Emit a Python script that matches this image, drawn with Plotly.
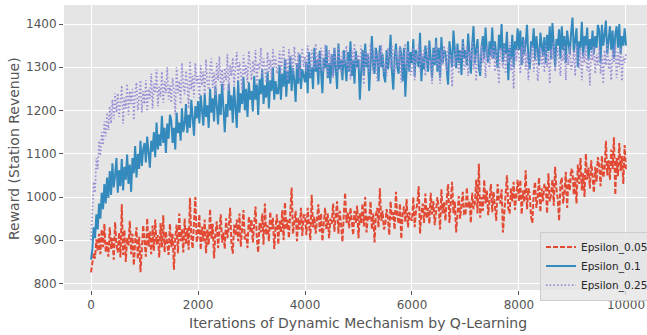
import plotly.graph_objects as go

# Iterations (sampled every 25 iterations)
iterations = list(range(0, 10001, 25))

# Epsilon 0.05 (red, dashed)
eps_005 = [
    826, 845, 870, 858, 902, 875, 915, 868, 925, 884, 938, 872, 896, 862, 930, 880, 905, 855, 942, 890,
    872, 918, 860, 983, 866, 924, 850, 906, 888, 945, 868, 915, 842, 898, 930, 856, 908, 826, 882, 935,
    898, 862, 951, 885, 920, 868, 934, 876, 948, 890, 912, 860, 940, 884, 958, 872, 920, 895, 866, 938,
    884, 915, 832, 905, 936, 870, 962, 898, 925, 872, 950, 890, 928, 878, 998, 905, 881, 942, 1000, 895,
    912, 960, 878, 931, 898, 948, 870, 925, 889, 972, 904, 938, 858, 915, 944, 882, 926, 960, 895, 918,
    880, 951, 905, 930, 975, 892, 869, 936, 910, 948, 898, 962, 885, 925, 970, 902, 915, 882, 955, 920,
    948, 895, 932, 978, 905, 872, 940, 918, 962, 890, 985, 912, 935, 898, 966, 925, 952, 880, 930, 960,
    890, 945, 918, 970, 900, 988, 925, 948, 905, 962, 1022, 915, 940, 968, 898, 952, 925, 975, 910, 958,
    958, 912, 975, 932, 900, 1005, 930, 955, 915, 948, 983, 920, 962, 898, 945, 975, 925, 962, 905, 950,
    938, 985, 920, 952, 990, 915, 968, 935, 896, 958, 1010, 940, 965, 928, 975, 945, 912, 968, 940, 980,
    905, 962, 940, 985, 932, 1000, 918, 955, 948, 990, 925, 962, 895, 958, 975, 930, 1020, 945, 968, 925,
    935, 972, 952, 912, 990, 948, 965, 925, 1012, 955, 938, 985, 903, 960, 978, 942, 995, 930, 965, 950,
    945, 1000, 930, 968, 985, 1025, 915, 962, 985, 940, 1008, 950, 975, 938, 1010, 960, 990, 935, 972, 1000,
    975, 925, 1018, 962, 988, 945, 995, 1030, 940, 978, 1035, 962, 990, 918, 975, 1002, 950, 985, 1012, 960,
    958, 1022, 975, 990, 940, 1010, 972, 985, 1040, 962, 1077, 952, 1000, 968, 1040, 985, 1015, 958, 995, 1030,
    965, 1012, 980, 945, 1030, 995, 985, 1018, 918, 970, 1008, 1050, 975, 962, 1020, 990, 1035, 970, 1005, 1040,
    990, 1040, 960, 1015, 988, 1062, 972, 1020, 1008, 955, 940, 1010, 1035, 975, 998, 1045, 965, 1020, 990, 1030,
    1025, 962, 1055, 990, 1005, 1040, 980, 1070, 1018, 995, 945, 1030, 1045, 985, 1010, 1058, 975, 1040, 1015, 1065,
    1060, 1005, 1045, 985, 1075, 1030, 1090, 1015, 1055, 1000, 1100, 1040, 1068, 1020, 1085, 1045, 1010, 1070, 1035, 1092,
    1070, 1025, 1095, 1045, 1062, 1130, 1050, 1085, 1040, 1110, 1065, 1138, 1005, 1090, 1048, 1125, 1060, 1095, 1030, 1120,
    1060,
]

# Epsilon 0.1 (blue, solid)
eps_01 = [
    855, 880, 930, 905, 960, 925, 985, 950, 1010, 972, 1030, 985, 1045, 998, 1060, 1005, 1078, 1022, 1050, 1090,
    1010, 1062, 1025, 1088, 1015, 1070, 1040, 1098, 1030, 1075, 1012, 1090, 1055, 1118, 1045, 1100, 1065, 1130, 1072, 1110,
    1125, 1080, 1140, 1095, 1068, 1130, 1105, 1150, 1092, 1172, 1110, 1145, 1118, 1188, 1125, 1160, 1102, 1170, 1135, 1190,
    1178, 1125, 1160, 1110, 1195, 1148, 1172, 1130, 1205, 1150, 1168, 1215, 1148, 1190, 1160, 1225, 1175, 1142, 1210, 1182,
    1222, 1170, 1235, 1198, 1165, 1240, 1185, 1212, 1160, 1250, 1195, 1228, 1175, 1255, 1205, 1168, 1238, 1190, 1262, 1210,
    1150, 1215, 1185, 1262, 1200, 1235, 1172, 1255, 1208, 1160, 1270, 1195, 1240, 1215, 1278, 1200, 1250, 1185, 1265, 1225,
    1245, 1198, 1280, 1225, 1260, 1190, 1272, 1238, 1295, 1215, 1258, 1230, 1290, 1205, 1270, 1245, 1300, 1225, 1268, 1240,
    1240, 1305, 1225, 1285, 1255, 1318, 1232, 1290, 1262, 1325, 1245, 1298, 1270, 1220, 1310, 1262, 1330, 1250, 1295, 1275,
    1265, 1312, 1240, 1335, 1275, 1300, 1250, 1345, 1290, 1318, 1260, 1338, 1285, 1240, 1322, 1298, 1350, 1275, 1310, 1262,
    1330, 1280, 1345, 1300, 1250, 1355, 1295, 1318, 1270, 1340, 1305, 1268, 1335, 1290, 1360, 1280, 1315, 1262, 1338, 1300,
    1318, 1225, 1290, 1340, 1280, 1355, 1300, 1330, 1245, 1320, 1372, 1300, 1285, 1345, 1320, 1268, 1350, 1300, 1330, 1280,
    1265, 1340, 1295, 1322, 1375, 1290, 1248, 1320, 1355, 1300, 1285, 1348, 1330, 1268, 1345, 1232, 1318, 1360, 1290, 1335,
    1310, 1365, 1280, 1340, 1315, 1300, 1380, 1268, 1325, 1295, 1350, 1310, 1290, 1362, 1320, 1275, 1345, 1305, 1368, 1290,
    1345, 1275, 1370, 1310, 1340, 1335, 1295, 1260, 1360, 1320, 1300, 1385, 1325, 1298, 1355, 1310, 1340, 1282, 1365, 1320,
    1340, 1305, 1378, 1320, 1285, 1350, 1395, 1310, 1342, 1365, 1300, 1280, 1345, 1372, 1320, 1392, 1335, 1310, 1360, 1325,
    1392, 1320, 1360, 1335, 1298, 1375, 1340, 1400, 1312, 1355, 1330, 1382, 1270, 1345, 1318, 1375, 1300, 1360, 1340, 1390,
    1340, 1385, 1305, 1370, 1330, 1355, 1398, 1320, 1295, 1360, 1345, 1390, 1318, 1372, 1340, 1305, 1380, 1350, 1325, 1370,
    1310, 1375, 1338, 1395, 1320, 1402, 1345, 1300, 1365, 1350, 1388, 1320, 1395, 1340, 1372, 1310, 1385, 1355, 1330, 1380,
    1415, 1335, 1370, 1390, 1300, 1360, 1345, 1405, 1325, 1372, 1350, 1392, 1318, 1365, 1340, 1385, 1330, 1372, 1345, 1398,
    1385, 1310, 1398, 1350, 1375, 1408, 1330, 1370, 1395, 1340, 1385, 1320, 1375, 1395, 1345, 1400, 1330, 1372, 1350, 1390,
    1350,
]

# Epsilon 0.25 (purple, dotted)
eps_025 = [
    900, 960, 1035, 1010, 1090, 1065, 1130, 1095, 1150, 1120, 1175, 1140, 1195, 1155, 1210, 1170, 1225, 1180, 1240, 1195,
    1240, 1185, 1225, 1258, 1170, 1230, 1205, 1262, 1190, 1245, 1215, 1250, 1178, 1240, 1265, 1200, 1232, 1270, 1195, 1245,
    1215, 1270, 1198, 1250, 1228, 1285, 1205, 1262, 1240, 1295, 1210, 1255, 1232, 1290, 1218, 1268, 1240, 1300, 1225, 1258,
    1218, 1275, 1250, 1190, 1300, 1240, 1268, 1215, 1310, 1255, 1238, 1292, 1260, 1205, 1315, 1248, 1280, 1230, 1310, 1262,
    1280, 1225, 1305, 1258, 1290, 1235, 1318, 1265, 1248, 1300, 1320, 1252, 1288, 1235, 1310, 1270, 1325, 1258, 1295, 1245,
    1298, 1270, 1330, 1245, 1305, 1280, 1322, 1258, 1300, 1335, 1268, 1312, 1290, 1248, 1328, 1282, 1305, 1265, 1338, 1295,
    1270, 1315, 1288, 1340, 1262, 1310, 1295, 1345, 1278, 1320, 1300, 1265, 1335, 1290, 1318, 1275, 1342, 1300, 1325, 1285,
    1300, 1338, 1282, 1325, 1350, 1290, 1318, 1270, 1342, 1305, 1328, 1285, 1348, 1310, 1295, 1335, 1275, 1320, 1345, 1300,
    1325, 1290, 1350, 1308, 1280, 1340, 1315, 1295, 1355, 1300, 1332, 1285, 1345, 1310, 1290, 1352, 1318, 1278, 1340, 1305,
    1330, 1275, 1345, 1310, 1290, 1350, 1318, 1282, 1338, 1305, 1325, 1350, 1292, 1315, 1272, 1340, 1308, 1355, 1295, 1328,
    1328, 1295, 1350, 1312, 1260, 1340, 1305, 1332, 1290, 1355, 1315, 1285, 1345, 1322, 1268, 1338, 1300, 1352, 1318, 1290,
    1315, 1280, 1345, 1322, 1298, 1352, 1310, 1285, 1340, 1318, 1300, 1348, 1265, 1330, 1308, 1355, 1292, 1338, 1315, 1282,
    1295, 1345, 1270, 1330, 1312, 1355, 1290, 1335, 1308, 1342, 1280, 1325, 1350, 1298, 1318, 1262, 1340, 1310, 1358, 1300,
    1320, 1262, 1340, 1305, 1350, 1318, 1290, 1345, 1310, 1330, 1255, 1325, 1300, 1348, 1315, 1285, 1340, 1322, 1360, 1295,
    1302, 1350, 1280, 1338, 1315, 1360, 1295, 1330, 1268, 1345, 1318, 1290, 1352, 1310, 1335, 1275, 1348, 1320, 1298, 1342,
    1318, 1355, 1290, 1340, 1310, 1262, 1345, 1320, 1298, 1350, 1285, 1335, 1310, 1358, 1292, 1325, 1250, 1340, 1315, 1345,
    1325, 1285, 1348, 1310, 1365, 1295, 1338, 1270, 1330, 1312, 1352, 1290, 1325, 1342, 1268, 1318, 1345, 1300, 1335, 1288,
    1350, 1300, 1335, 1262, 1342, 1318, 1360, 1290, 1325, 1345, 1308, 1280, 1338, 1315, 1350, 1270, 1330, 1305, 1348, 1295,
    1305, 1340, 1280, 1355, 1320, 1298, 1345, 1270, 1335, 1310, 1350, 1292, 1325, 1258, 1340, 1315, 1348, 1285, 1330, 1305,
    1348, 1285, 1330, 1262, 1340, 1305, 1355, 1295, 1320, 1270, 1342, 1310, 1350, 1275, 1335, 1300, 1345, 1268, 1325, 1310,
    1330,
]

series_names = ["Epsilon_0.05", "Epsilon_0.1", "Epsilon_0.25"]
x_ticks = [0, 2000, 4000, 6000, 8000, 10000]
y_ticks = [800, 900, 1000, 1100, 1200, 1300, 1400]
x_title = "Iterations of Dynamic Mechanism by Q-Learning"
y_title = "Reward (Station Revenue)"

fig = go.Figure()
fig.add_trace(go.Scatter(x=iterations[:len(eps_005)], y=eps_005, mode="lines", name=series_names[0],
                         line=dict(color="#E24A33", width=2.0, dash="5px,2px")))
fig.add_trace(go.Scatter(x=iterations[:len(eps_01)], y=eps_01, mode="lines", name=series_names[1],
                         line=dict(color="#348ABD", width=2.0)))
fig.add_trace(go.Scatter(x=iterations[:len(eps_025)], y=eps_025, mode="lines", name=series_names[2],
                         line=dict(color="#988ED5", width=1.7, dash="1.5px,2.2px")))

font_family = "DejaVu Sans"
fig.update_layout(
    width=647, height=335,
    margin=dict(l=64, r=0, t=5, b=45, autoexpand=False),
    paper_bgcolor="white",
    plot_bgcolor="#E5E5E5",
    font=dict(family=font_family, color="#555555", size=12),
    showlegend=True,
    legend=dict(
        x=0.8165, y=0.205, xanchor="left", yanchor="top",
        bgcolor="rgba(229,229,229,0.8)", bordercolor="#CCCCCC", borderwidth=1,
        font=dict(family=font_family, size=10.5, color="#262626"),
        itemwidth=30,
        tracegroupgap=0,
    ),
    xaxis=dict(
        range=[-505, 10393], tickvals=x_ticks, ticktext=[str(v) for v in x_ticks],
        showgrid=True, gridcolor="white", gridwidth=1.2, zeroline=False,
        ticks="outside", ticklen=4, tickcolor="#555555", showline=False,
        automargin=False,
        tickfont=dict(size=12, color="#555555"),
    ),
    yaxis=dict(
        range=[785, 1444], tickvals=y_ticks, ticktext=[str(v) for v in y_ticks],
        showgrid=True, gridcolor="white", gridwidth=1.2, zeroline=False,
        ticks="outside", ticklen=4, tickcolor="#555555", showline=False,
        automargin=False,
        tickfont=dict(size=12, color="#555555"),
    ),
    annotations=[
        dict(text=x_title, xref="paper", yref="paper", x=0.504, y=-0.0807,
             xanchor="center", yanchor="top", showarrow=False,
             font=dict(family=font_family, size=14, color="#555555")),
        dict(text=y_title, xref="paper", yref="paper", x=-0.0858, y=0.498,
             xanchor="center", yanchor="middle", textangle=-90, showarrow=False,
             font=dict(family=font_family, size=14, color="#555555")),
    ],
)

# Remove the browser's default 8px body margin so the figure sits at the window origin.
fig.write_html(
    "out.html",
    config={"displayModeBar": False},
    post_script="document.body.style.margin='0';document.body.style.overflow='hidden';",
)
